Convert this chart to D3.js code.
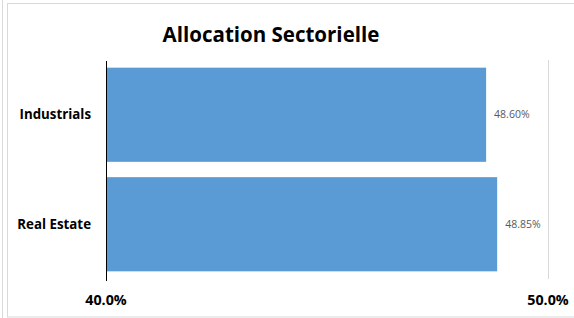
<!DOCTYPE html>
<html>
<head>
<meta charset="utf-8">
<script src="https://cdn.jsdelivr.net/npm/d3@7"></script>
<style>
  body { margin: 0; background: #fff; }
  svg { display: block; font-family: "Open Sans", Lato, sans-serif; }
</style>
</head>
<body>
<svg width="574" height="318"></svg>
<script>
var categories = ["Industrials", "Real Estate"];
var values = [48.60, 48.85];
var valueLabels = ["48.60%", "48.85%"];
var tickValues = [40, 50];
var tickLabels = ["40.0%", "50.0%"];
var title = "Allocation Sectorielle";

var svg = d3.select("svg");

// frame lines around the chart
svg.append("line").attr("x1", 2.5).attr("x2", 2.5).attr("y1", 0).attr("y2", 318)
    .attr("stroke", "#d9d9d9");
svg.append("rect").attr("x", 7.5).attr("y", 3.5).attr("width", 580).attr("height", 313.5)
    .attr("fill", "none").attr("stroke", "#d9d9d9");

var x = d3.scaleLinear().domain([40, 50]).range([106, 548]);
var y = d3.scaleBand().domain(categories).range([60, 279])
    .paddingInner(0.14).paddingOuter(0.07);

// gridline at max
svg.append("line")
    .attr("x1", x(50) + 0.5).attr("x2", x(50) + 0.5)
    .attr("y1", 60).attr("y2", 279)
    .attr("stroke", "#d9d9d9");

svg.append("text")
    .attr("x", 271).attr("y", 42)
    .attr("text-anchor", "middle")
    .attr("font-size", 20.5).attr("font-weight", "bold")
    .attr("fill", "#000")
    .text(title);

svg.selectAll(".bar")
    .data(values)
    .enter().append("rect")
    .attr("class", "bar")
    .attr("x", x(40))
    .attr("y", function(d, i) { return y(categories[i]); })
    .attr("width", function(d) { return x(d) - x(40); })
    .attr("height", y.bandwidth())
    .attr("fill", "#5b9bd5");

svg.selectAll(".vlabel")
    .data(values)
    .enter().append("text")
    .attr("class", "vlabel")
    .attr("x", function(d) { return x(d) + 8; })
    .attr("y", function(d, i) { return y(categories[i]) + y.bandwidth() / 2; })
    .attr("dy", "0.35em")
    .attr("font-size", 10.5)
    .attr("fill", "#595959")
    .text(function(d, i) { return valueLabels[i]; });

// category axis
svg.append("line")
    .attr("x1", x(40) + 0.5).attr("x2", x(40) + 0.5)
    .attr("y1", 61).attr("y2", 281)
    .attr("stroke", "#000");

svg.selectAll(".cat")
    .data(categories)
    .enter().append("text")
    .attr("class", "cat")
    .attr("x", 91)
    .attr("y", function(d) { return y(d) + y.bandwidth() / 2; })
    .attr("dy", "0.35em")
    .attr("text-anchor", "end")
    .attr("font-size", 13.3).attr("font-weight", "bold")
    .attr("fill", "#000")
    .text(function(d) { return d; });

svg.selectAll(".tick")
    .data(tickValues)
    .enter().append("text")
    .attr("class", "tick")
    .attr("x", function(d) { return x(d); })
    .attr("y", 305)
    .attr("text-anchor", "middle")
    .attr("font-size", 14.3).attr("font-weight", "bold")
    .attr("fill", "#000")
    .text(function(d, i) { return tickLabels[i]; });
</script>
</body>
</html>
